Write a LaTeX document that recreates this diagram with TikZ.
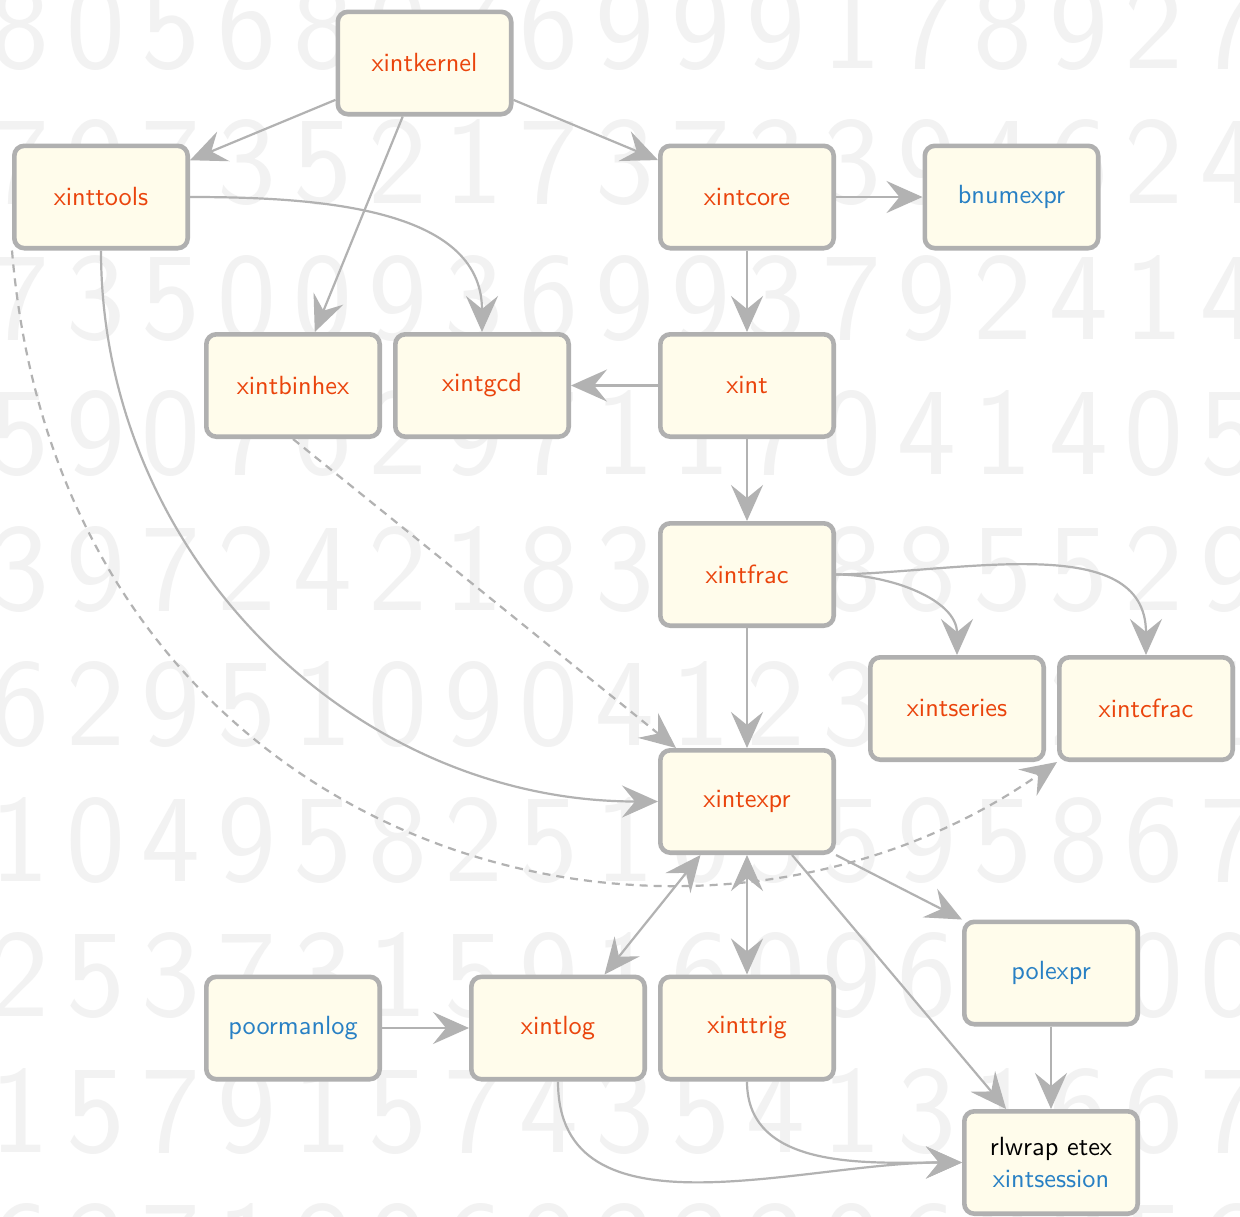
\documentclass[tikz,border=0pt]{standalone}
\usepackage{fontspec}
\newfontfamily\pkgfont{lmsans10-regular.otf}
\usetikzlibrary{arrows.meta}
\definecolor{boxfill}{RGB}{255,252,235}
\definecolor{boxline}{RGB}{176,176,176}
\definecolor{edgecol}{RGB}{178,178,178}
\definecolor{pkgred}{RGB}{234,68,12}
\definecolor{pkgblue}{RGB}{40,128,196}
\definecolor{digitcol}{RGB}{242,242,242}
\begin{document}
\begin{tikzpicture}[x=1pt,y=-1pt,
  pkg/.style={draw=boxline, line width=4.6pt, fill=boxfill, rounded corners=10pt,
    minimum width=173.4pt, minimum height=102.4pt, inner sep=0pt,
    font=\fontsize{26.3}{32}\selectfont\pkgfont, text=pkgred, align=center},
  ext/.style={pkg, text=pkgblue},
  dep/.style={draw=edgecol, line width=2.2pt,
    -{Stealth[length=36pt,width=32pt,inset=13pt]}},
  bidep/.style={draw=edgecol, line width=2.2pt,
    {Stealth[length=36pt,width=32pt,inset=13pt]}-{Stealth[length=36pt,width=32pt,inset=13pt]}},
  optdep/.style={dep, dash pattern=on 8pt off 6pt},
  digit/.style={anchor=base, inner sep=0pt, text=digitcol,
    font=\fontsize{125}{125}\selectfont\sffamily}
]
\useasboundingbox[fill=white] (0,0) rectangle (1240,1216);

% background digits
\foreach \row [count=\r] in {
  {8,0,5,6,8,0,7,6,9,9,9,1,7,8,9,2,7},
  {7,9,7,3,5,2,1,7,3,7,3,3,9,4,6,2,4},
  {7,3,5,0,0,9,3,6,9,9,3,7,9,2,4,1,4},
  {5,9,0,7,6,2,9,7,1,1,7,0,4,1,4,0,5},
  {3,9,7,2,4,2,1,8,3,1,5,8,8,5,5,2,9},
  {6,2,9,5,1,0,9,0,4,1,2,3,8,5,2,9,1},
  {1,0,4,9,5,8,2,5,1,0,5,5,9,5,8,6,7},
  {2,5,3,7,3,1,5,9,1,6,0,9,6,1,2,0,0},
  {1,5,7,9,1,5,7,4,3,5,4,1,3,1,6,6,7},
  {6,3,7,1,8,0,6,0,3,3,3,0,6,0,2,5,6}}{
  \foreach \d [count=\c] in \row {
    \node[digit] (d\r-\c) at ({20+75.6*(\c-1)},{68+135.5*(\r-1)}) {\d};
  }
}

% packages
\node[pkg] (xintkernel) at (424.5,63) {xintkernel};
\node[pkg] (xinttools) at (101,197) {xinttools};
\node[pkg] (xintcore) at (747,197) {xintcore};
\node[ext] (bnumexpr) at (1011.5,197) {bnumexpr};
\node[pkg] (xintbinhex) at (293,385.5) {xintbinhex};
\node[pkg] (xintgcd) at (482,385.5) {xintgcd};
\node[pkg] (xint) at (747,385.5) {xint};
\node[pkg] (xintfrac) at (747,574.5) {xintfrac};
\node[pkg] (xintseries) at (957,708.5) {xintseries};
\node[pkg] (xintcfrac) at (1146,708.5) {xintcfrac};
\node[pkg] (xintexpr) at (747,801.5) {xintexpr};
\node[ext] (polexpr) at (1051,973) {polexpr};
\node[ext] (poormanlog) at (293,1028) {poormanlog};
\node[pkg] (xintlog) at (558,1028) {xintlog};
\node[pkg] (xinttrig) at (747,1028) {xinttrig};
\node[pkg, text=black] (rlwrap) at (1051,1162.5) {rlwrap etex\\\textcolor{pkgblue}{xintsession}};

% dependencies
\draw[dep] (xintkernel) -- (xinttools);
\draw[dep] (xintkernel) -- (xintcore);
\draw[dep] (xintkernel) -- (xintbinhex);
\draw[dep] (xinttools.east) .. controls +(125,0) and +(0,-125) .. (xintgcd.north);
\draw[dep] (xinttools.south) .. controls +(0,305) and +(-305,0) .. (xintexpr.west);
\draw[optdep] (xinttools.south west) .. controls +(50,600) and +(-380,265) .. (xintcfrac.south west);
\draw[dep] (xintcore) -- (bnumexpr);
\draw[dep] (xintcore) -- (xint);
\draw[dep] (xint) -- (xintgcd);
\draw[dep] (xint) -- (xintfrac);
\draw[optdep] (xintbinhex.south) -- (xintexpr.143);
\draw[dep] (xintfrac.east) .. controls +(55,0) and +(0,-55) .. (xintseries.north);
\draw[dep] (xintfrac.east) .. controls +(125,-2) and +(0,-125) .. (xintcfrac.north);
\draw[dep] (xintfrac) -- (xintexpr);
\draw[bidep] (xintexpr.-131) -- (xintlog.49);
\draw[bidep] (xintexpr.south) -- (xinttrig.north);
\draw[dep] (xintexpr.south east) -- (polexpr.north west);
\draw[dep] (xintexpr) -- (rlwrap);
\draw[dep] (polexpr) -- (rlwrap);
\draw[dep] (poormanlog) -- (xintlog);
\draw[dep] (xintlog.south) .. controls +(0,161) and +(-161,0) .. (rlwrap.west);
\draw[dep] (xinttrig.south) .. controls +(0,90) and +(-90,0) .. (rlwrap.west);
\end{tikzpicture}
\end{document}
